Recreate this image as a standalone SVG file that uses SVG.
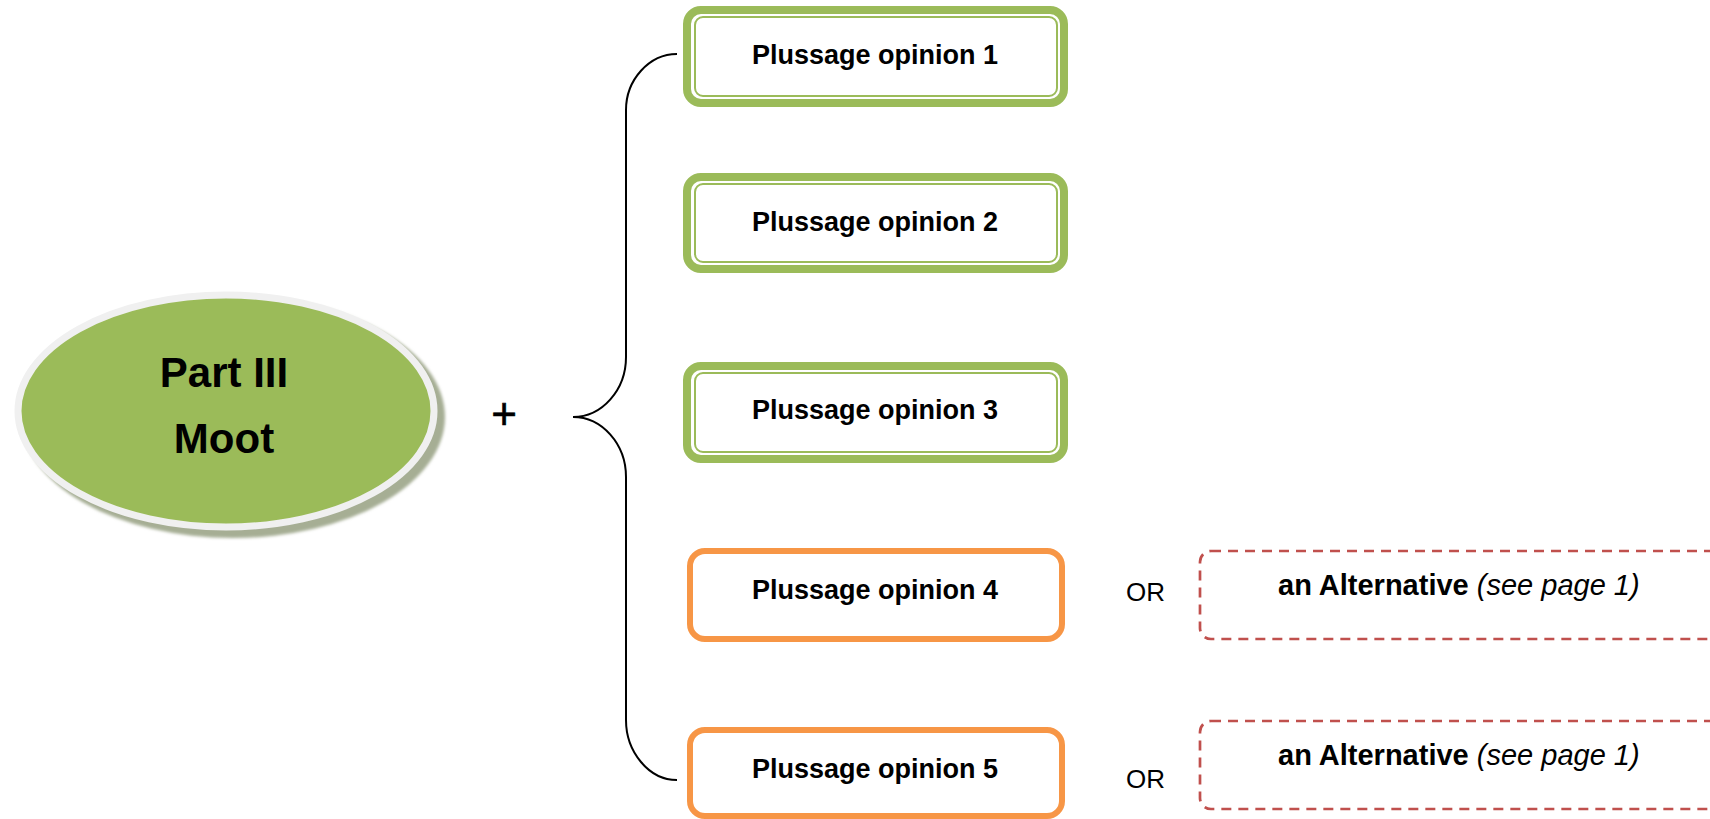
<svg xmlns="http://www.w3.org/2000/svg" width="1710" height="819" viewBox="0 0 1710 819">
<defs>
<filter id="blur" x="-10%" y="-10%" width="120%" height="120%"><feGaussianBlur stdDeviation="1.5"/></filter>
</defs>
<style>
.gout{fill:#fff;stroke:#9BBB59;stroke-width:8}
.gin{fill:none;stroke:#9BBB59;stroke-width:2}
.org{fill:#fff;stroke:#F79646;stroke-width:6}
.alt{fill:#fff;stroke:#C0504D;stroke-width:2.7;stroke-dasharray:10 7}
.lbl{font-family:"Liberation Sans",Arial,sans-serif;font-weight:bold;font-size:27px;fill:#000;text-anchor:middle}
.alttxt{font-family:"Liberation Sans",Arial,sans-serif;font-size:29px;fill:#000}
.or{font-family:"Liberation Sans",Arial,sans-serif;font-size:26px;fill:#000}
.conn{fill:none;stroke:#000;stroke-width:2}
</style>
<g id="center">
<ellipse cx="233" cy="417" rx="212" ry="121" fill="#A6AE94" filter="url(#blur)"/>
<ellipse cx="226" cy="411" rx="208" ry="116" fill="#9BBB59" stroke="#F0F0F0" stroke-width="7"/>
<text x="224" y="387" font-family="Liberation Sans,Arial,sans-serif" font-weight="bold" font-size="42" text-anchor="middle">Part III</text>
<text x="224" y="453" font-family="Liberation Sans,Arial,sans-serif" font-weight="bold" font-size="42" text-anchor="middle">Moot</text>
</g>
<g id="plus">
<text x="504" y="429" font-family="Liberation Sans,Arial,sans-serif" font-size="44" text-anchor="middle" stroke="#000" stroke-width="0.6">+</text>
</g>
<g id="connectors">
<path class="conn" d="M677,54 C649,54 626,80 626,110 L626,357 C626,390 602,417 573,417 C602,417 626,444 626,477 L626,720 C626,752 649,780 677,780"/>
</g>
<g id="opinion1">
<rect class="gout" x="687" y="10" width="377" height="93" rx="14"/>
<rect class="gin" x="695" y="17" width="362" height="79" rx="8"/>
<text class="lbl" x="875" y="64">Plussage opinion 1</text>
</g>
<g id="opinion2">
<rect class="gout" x="687" y="177" width="377" height="92" rx="14"/>
<rect class="gin" x="695" y="184" width="362" height="78" rx="8"/>
<text class="lbl" x="875" y="231">Plussage opinion 2</text>
</g>
<g id="opinion3">
<rect class="gout" x="687" y="366" width="377" height="93" rx="14"/>
<rect class="gin" x="695" y="373" width="362" height="79" rx="8"/>
<text class="lbl" x="875" y="419">Plussage opinion 3</text>
</g>
<g id="opinion4">
<rect class="org" x="690" y="551" width="372" height="88" rx="15"/>
<text class="lbl" x="875" y="599">Plussage opinion 4</text>
</g>
<g id="opinion5">
<rect class="org" x="690" y="730" width="372" height="86" rx="15"/>
<text class="lbl" x="875" y="778">Plussage opinion 5</text>
</g>
<g id="or1"><text class="or" x="1126" y="601">OR</text></g>
<g id="or2"><text class="or" x="1126" y="788">OR</text></g>
<g id="alternative1">
<rect class="alt" x="1200" y="551" width="560" height="88" rx="11"/>
<text class="alttxt" x="1278" y="595"><tspan font-weight="bold">an Alternative </tspan><tspan font-style="italic">(see page 1)</tspan></text>
</g>
<g id="alternative2">
<rect class="alt" x="1200" y="721" width="560" height="88" rx="11"/>
<text class="alttxt" x="1278" y="765"><tspan font-weight="bold">an Alternative </tspan><tspan font-style="italic">(see page 1)</tspan></text>
</g>
</svg>
